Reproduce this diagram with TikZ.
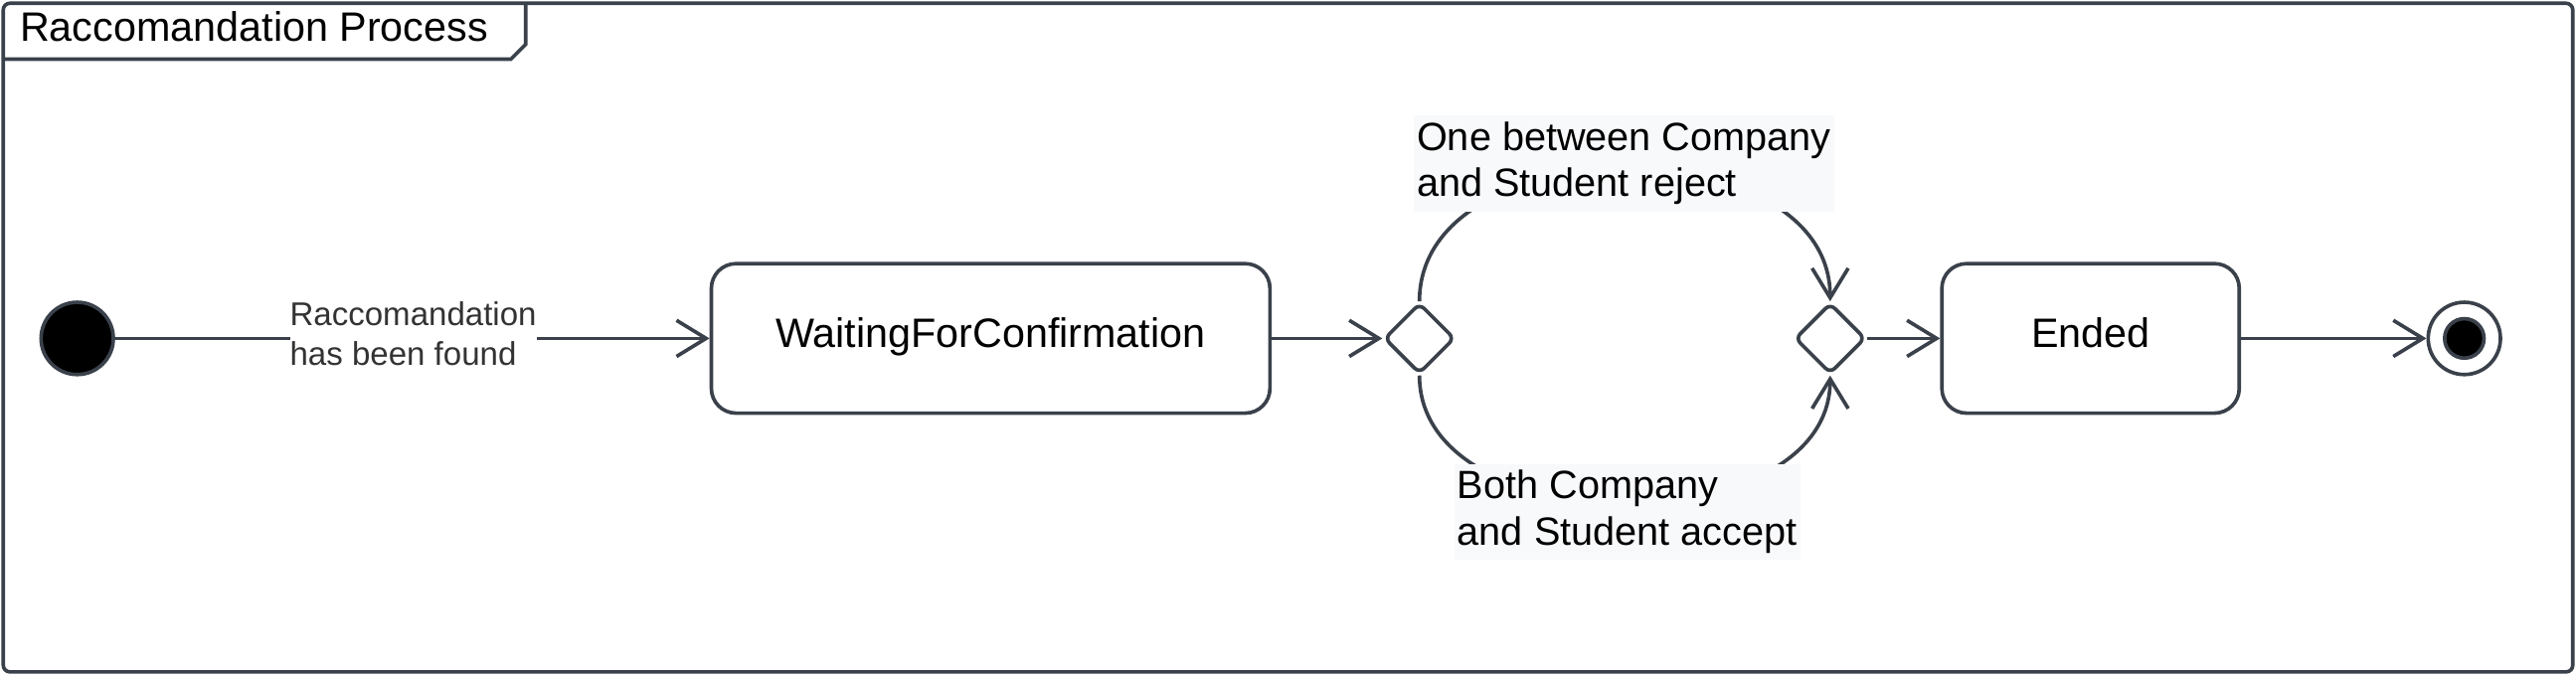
\documentclass[tikz,border=0pt]{standalone}
\usepackage{fontspec}
\setmainfont{Liberation Sans}
\usetikzlibrary{arrows.meta,shapes.geometric}
\definecolor{stroke}{RGB}{58,65,74}
\definecolor{lblbg}{RGB}{248,249,251}
\definecolor{lbltext}{RGB}{51,51,51}
\tikzset{
  conn/.style={draw=stroke, line width=2.2pt, -{Straight Barb[length=18pt,width=22pt,line width=2.2pt]}},
  curveconn/.style={draw=stroke, line width=2.2pt, -{Straight Barb[length=18pt,width=22pt,line width=2.2pt]}},
  statebox/.style={draw=stroke, line width=2.2pt, rounded corners=15pt, minimum height=91pt, font=\fontsize{25}{30}\selectfont, fill=white, text height=18.2pt, text depth=7pt},
  decision/.style={diamond, draw=stroke, line width=2.2pt, rounded corners=4pt, minimum width=43pt, minimum height=43pt, inner sep=0pt, fill=white},
  guard/.style={fill=lblbg, inner xsep=2pt, inner ysep=4pt, align=left, font=\fontsize{24}{28}\selectfont},
  framestyle/.style={draw=stroke, line width=2.2pt},
}
\begin{document}
\begin{tikzpicture}[x=1pt,y=-1pt]
\useasboundingbox (0,0) rectangle (1568,411);
% frame
\draw[framestyle, rounded corners=4pt] (2,2) rectangle (1566,409);
\draw[framestyle] (2,36) -- (311,36) -- (320,27) -- (320,2);
\node[anchor=west, font=\fontsize{25}{30}\selectfont, inner sep=0pt] (title) at (12,16) {Raccomandation Process};
% nodes
\node[circle, fill=black, draw=stroke, line width=2.2pt, minimum size=44pt, inner sep=0pt] (init) at (47,206) {};
\node[statebox, minimum width=340pt] (wait) at (603,206) {WaitingForConfirmation};
\node[decision] (d1) at (864,206) {};
\node[decision] (d2) at (1114,206) {};
\node[statebox, minimum width=181pt] (ended) at (1272.5,206) {Ended};
\node[circle, draw=stroke, line width=2.2pt, minimum size=44pt, inner sep=0pt, fill=white] (fin) at (1500,206) {};
\node[circle, fill=black, draw=stroke, line width=2.2pt, minimum size=24pt, inner sep=0pt] (finin) at (fin) {};
% connectors
\draw[conn] (init) -- (wait);
\node[fill=white, inner sep=0pt, align=left, text=lbltext, font=\fontsize{20}{24}\selectfont] (l1) at (251.5,203) {Raccomandation\\has been found};
\draw[conn] (wait) -- (d1);
\draw[curveconn] (d1.north) .. controls +(0,-107) and +(0,-107) .. (d2.north);
\draw[curveconn] (d1.south) .. controls +(0,103) and +(0,103) .. (d2.south);
\node[guard] (g1) at (988.5,99.5) {One between Company\\and Student reject};
\node[guard] (g2) at (990.5,311.5) {Both Company\\and Student accept};
\draw[conn] (d2) -- (ended);
\draw[conn] (ended) -- (fin);
\end{tikzpicture}
\end{document}
